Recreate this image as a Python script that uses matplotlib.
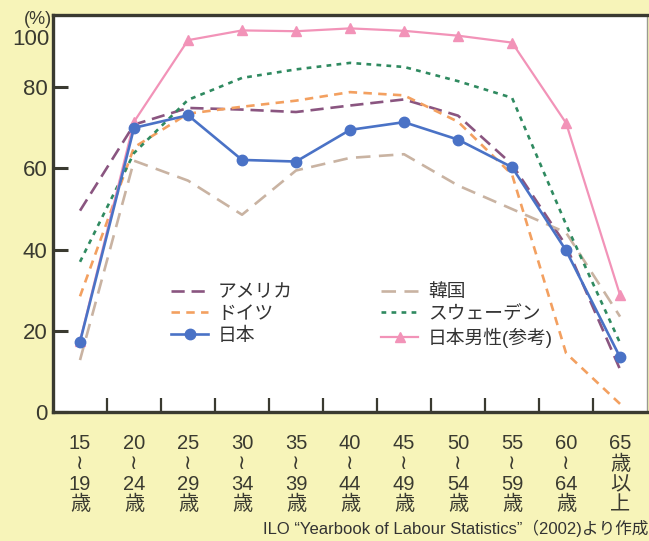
import matplotlib.pyplot as plt
import numpy as np

plt.rcParams['font.family'] = ['Liberation Sans', 'Noto Sans CJK JP', 'DejaVu Sans']

# age groups (x-axis)
age_from = ['15', '20', '25', '30', '35', '40', '45', '50', '55', '60']
age_to = ['19', '24', '29', '34', '39', '44', '49', '54', '59', '64']
age_labels = [f'{a}\n≀\n{b}\n歳' for a, b in zip(age_from, age_to)] + ['65\n歳\n以\n上']

# female labour force participation by age (%), plus Japanese men for reference
usa = [49.6, 70.8, 74.9, 74.5, 73.9, 75.5, 77.0, 73.0, 61.0, 41.0, 10.5]
germany = [28.5, 65.2, 73.5, 75.2, 76.7, 78.8, 78.0, 71.5, 58.5, 14.5, 2.0]
japan = [17.3, 70.0, 73.1, 62.1, 61.7, 69.5, 71.4, 67.1, 60.3, 39.8, 13.5]
korea = [12.8, 61.9, 57.0, 48.6, 59.5, 62.6, 63.5, 55.8, 50.0, 44.2, 23.5]
sweden = [37.0, 63.8, 76.9, 82.3, 84.4, 86.0, 85.0, 81.5, 77.4, 46.2, 17.0]
japan_men = [17.5, 71.5, 91.6, 94.0, 93.8, 94.5, 93.9, 92.7, 91.0, 71.2, 28.8]

bg = '#f7f4b9'
fig = plt.figure(figsize=(6.49, 5.41), dpi=100, facecolor=bg)
ax = fig.add_axes([0.0817, 0.2384, 0.9153, 0.7339])
ax.set_facecolor('white')

x = np.arange(len(age_labels))
lw = 1.9
ax.plot(x, usa, color='#8a5580', lw=lw, dashes=(5, 2.6), label='アメリカ')
ax.plot(x, germany, color='#f3a060', lw=lw, dashes=(3.2, 2.4), label='ドイツ')
ax.plot(x, japan, color='#4a72c6', lw=lw, marker='o', ms=7.5, label='日本', zorder=5)
ax.plot(x, korea, color='#c9b3a2', lw=lw, dashes=(5.5, 3.2), label='韓国')
ax.plot(x, sweden, color='#2f8a60', lw=lw, dashes=(1.8, 2.0), label='スウェーデン')
ax.plot(x, japan_men, color='#f293b8', lw=1.6, marker='^', ms=7, label='日本男性(参考)')

ax.set_xlim(-0.5, 10.5)
ax.set_ylim(0, 97.8)

# y ticks
ax.set_yticks([0, 20, 40, 60, 80])
ax.set_yticklabels(['0', '20', '40', '60', '80'], fontsize=16, color='#3a3a30')
ax.tick_params(axis='y', direction='in', length=11, width=2.2, color='#3a3a30', pad=4)
ax.text(-0.006, 91.8, '100', transform=ax.get_yaxis_transform(), ha='right', va='center',
        fontsize=16, color='#3a3a30')
ax.text(-0.002, 96.6, '(%)', transform=ax.get_yaxis_transform(), ha='right', va='center',
        fontsize=13, color='#3a3a30', clip_on=False)

# x ticks at group boundaries, labels at group centres
ax.set_xticks(np.arange(0.5, 10, 1))
ax.set_xticklabels([])
ax.tick_params(axis='x', which='major', direction='in', length=10, width=1.6, color='#3a3a30')
ax.set_xticks(x, minor=True)
ax.set_xticklabels(age_labels, minor=True, fontsize=14.5, color='#3a3a30', linespacing=1.08)
ax.tick_params(axis='x', which='minor', length=0, pad=16)

for side in ['left', 'bottom', 'top']:
    ax.spines[side].set_linewidth(2.4)
    ax.spines[side].set_color('#3a3a30')
ax.spines['right'].set_linewidth(1.0)
ax.spines['right'].set_color('#9a9a90')

leg = ax.legend(loc='upper left', bbox_to_anchor=(0.17, 0.365), ncol=2, frameon=False,
                fontsize=13.5, handlelength=2.0, handletextpad=0.5, columnspacing=4.7,
                labelspacing=0.25)
for t in leg.get_texts():
    t.set_color('#333333')

fig.text(0.999, 0.008, 'ILO \u201cYearbook of Labour Statistics\u201d\uff082002)より作成',
         ha='right', va='bottom', fontsize=12, color='#333333')

fig.savefig('out.png', dpi=100, facecolor=bg)
